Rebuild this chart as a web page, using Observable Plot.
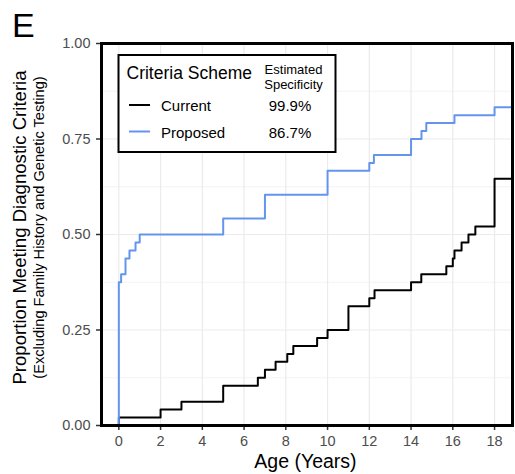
<!DOCTYPE html>
<html>
<head>
<meta charset="utf-8">
<script src="https://cdn.jsdelivr.net/npm/d3@7"></script>
<script src="https://cdn.jsdelivr.net/npm/@observablehq/plot@0.6"></script>
<style>
  html, body { margin: 0; padding: 0; background: #fff; }
  #chart { position: relative; width: 515px; height: 474px; }
</style>
</head>
<body>
<div id="chart"></div>
<script>
// ---- data ----
const currentAge  = [0, 0, 2.0, 3.0, 5.0, 6.66, 7.0, 7.51, 8.07, 8.36, 9.5, 10.0, 11.0, 12.0, 12.25, 14.0, 14.49, 15.69, 16.0, 16.08, 16.42, 16.75, 17.08, 18.0, 18.86];
const currentProp = [0, 0.021, 0.042, 0.0625, 0.104, 0.125, 0.146, 0.167, 0.1875, 0.208, 0.229, 0.25, 0.3125, 0.333, 0.354, 0.375, 0.396, 0.417, 0.4375, 0.458, 0.479, 0.5, 0.521, 0.646, 0.646];
const proposedAge  = [0, 0, 0.11, 0.32, 0.51, 0.8, 1.0, 5.0, 7.0, 10.0, 12.0, 12.22, 14.0, 14.5, 14.73, 16.08, 18.0, 18.86];
const proposedProp = [0, 0.375, 0.396, 0.4375, 0.458, 0.479, 0.5, 0.542, 0.604, 0.667, 0.6875, 0.708, 0.75, 0.771, 0.792, 0.8125, 0.833, 0.833];
const schemes = ["Current", "Proposed"];
const specificity = ["99.9%", "86.7%"];
const colors = ["#000000", "#6495ED"];
const xTicks = [0, 2, 4, 6, 8, 10, 12, 14, 16, 18];
const yTicks = [0, 0.25, 0.5, 0.75, 1];
const yMinor = [0.125, 0.375, 0.625, 0.875];

const rows = [
  ...currentAge.map((a, i) => ({scheme: schemes[0], age: a, prop: currentProp[i]})),
  ...proposedAge.map((a, i) => ({scheme: schemes[1], age: a, prop: proposedProp[i]}))
];

const font = "'Liberation Sans', Arial, Helvetica, sans-serif";

const plot = Plot.plot({
  width: 515,
  height: 474,
  marginLeft: 101,
  marginRight: 3,
  marginTop: 43,
  marginBottom: 49,
  style: {fontFamily: font, background: "#fff", overflow: "visible"},
  x: {domain: [-0.83, 18.86]},
  y: {domain: [0, 1]},
  color: {domain: schemes, range: colors},
  marks: [
    Plot.gridY(yMinor, {stroke: "#ebebeb", strokeOpacity: 1, strokeWidth: 0.6}),
    Plot.gridY(yTicks, {stroke: "#ebebeb", strokeOpacity: 1, strokeWidth: 1.2}),
    Plot.gridX(xTicks, {stroke: "#ebebeb", strokeOpacity: 1, strokeWidth: 1.2}),
    Plot.axisY(yTicks, {tickFormat: d3.format(".2f"), tickSize: 5, tickPadding: 6, fontSize: 14.5, color: "#4d4d4d", stroke: "#333", strokeWidth: 1.5, label: null}),
    Plot.axisX(xTicks, {tickSize: 5, tickPadding: 5, fontSize: 14.5, color: "#4d4d4d", stroke: "#333", strokeWidth: 1.5, label: null}),
    Plot.line(rows, {x: "age", y: "prop", z: "scheme", stroke: "scheme", curve: "step-after", strokeWidth: 2}),
    Plot.frame({stroke: "#000", strokeWidth: 3})
  ]
});

document.getElementById("chart").appendChild(plot);

// ---- annotations (real text) ----
const svg = d3.select(plot);
const g = svg.append("g").style("font-family", font).attr("text-anchor", "start");

g.append("text").attr("x", 12).attr("y", 37).attr("font-size", 34).attr("fill", "#000").text("E");

g.append("text")
  .attr("transform", "translate(26,227.5) rotate(-90)")
  .attr("text-anchor", "middle").attr("font-size", 18.6).attr("fill", "#000")
  .text("Proportion Meeting Diagnostic Criteria");
g.append("text")
  .attr("transform", "translate(44,227.5) rotate(-90)")
  .attr("text-anchor", "middle").attr("font-size", 14.6).attr("fill", "#000")
  .text("(Excluding Family History and Genetic Testing)");

g.append("text").attr("x", 305.5).attr("y", 468).attr("text-anchor", "middle")
  .attr("font-size", 19.5).attr("fill", "#000").text("Age (Years)");

// legend
const lg = g.append("g").attr("text-anchor", "start");
lg.append("rect").attr("x", 118.5).attr("y", 55).attr("width", 217).attr("height", 97)
  .attr("fill", "#fff").attr("stroke", "#000").attr("stroke-width", 2);
lg.append("text").attr("x", 126.5).attr("y", 79).attr("font-size", 17.5).attr("fill", "#000").text("Criteria Scheme");
lg.append("text").attr("x", 293.5).attr("y", 74).attr("text-anchor", "middle").attr("font-size", 13).attr("fill", "#000").text("Estimated");
lg.append("text").attr("x", 293.5).attr("y", 89).attr("text-anchor", "middle").attr("font-size", 13).attr("fill", "#000").text("Specificity");
schemes.forEach((s, i) => {
  const y = 105 + i * 26.5;
  lg.append("line").attr("x1", 129).attr("x2", 150).attr("y1", y).attr("y2", y)
    .attr("stroke", colors[i]).attr("stroke-width", 2);
  lg.append("text").attr("x", 161).attr("y", y + 6).attr("text-anchor", "start").attr("font-size", 15).attr("fill", "#000").text(s);
  lg.append("text").attr("x", 290).attr("y", y + 6).attr("text-anchor", "middle").attr("font-size", 15).attr("fill", "#000").text(specificity[i]);
});
</script>
</body>
</html>
